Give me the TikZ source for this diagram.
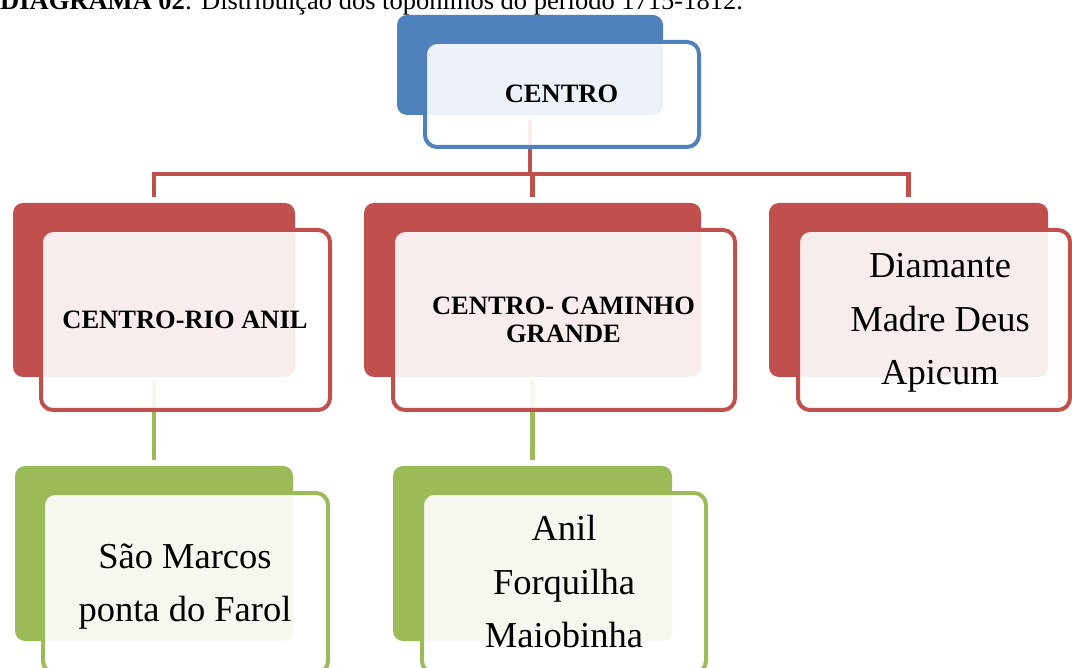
\documentclass[tikz,border=0pt]{standalone}
\usepackage{fontspec}
\setmainfont{Liberation Serif}
\definecolor{cblue}{HTML}{4F81BD}
\definecolor{cred}{HTML}{C0504D}
\definecolor{cgreen}{HTML}{9BBB59}
\begin{document}
\begin{tikzpicture}[x=1pt,y=-1pt,
  backbox/.style={rectangle, rounded corners=10pt, inner sep=0pt, outer sep=0pt, draw=none},
  frontbox/.style={rectangle, rounded corners=12pt, inner sep=0pt, outer sep=0pt, line width=4pt, fill=white, fill opacity=0.9},
  conn/.style={line width=4.5pt},
  boldlbl/.style={inner sep=0pt, align=center, font=\fontsize{26.5}{28}\selectfont\bfseries},
  biglbl/.style={inner sep=0pt, align=center, font=\fontsize{36.5}{53.5}\selectfont}
]
\useasboundingbox (0,0) rectangle (1072,668);

% back rectangles
\node[backbox, fill=cblue, minimum width=266pt, minimum height=100pt] (b0) at (530,65) {};
\node[backbox, fill=cred, minimum width=282pt, minimum height=174pt] (b1) at (154,290) {};
\node[backbox, fill=cred, minimum width=337pt, minimum height=174pt] (b2) at (532.5,290) {};
\node[backbox, fill=cred, minimum width=279pt, minimum height=174pt] (b3) at (908.5,290) {};
\node[backbox, fill=cgreen, minimum width=278pt, minimum height=175pt] (g1) at (154,553.5) {};
\node[backbox, fill=cgreen, minimum width=279pt, minimum height=175pt] (g2) at (532.5,553.5) {};

% connectors
\coordinate (bus) at (0,174);
\draw[conn, cred] ([yshift=-5pt]b0.south) -- (b0.south |- bus);
\draw[conn, cred] ([yshift=6pt]b1.north) -- (b1.north |- bus) -- (b3.north |- bus) -- ([yshift=6pt]b3.north);
\draw[conn, cred] (b2.north |- bus) -- ([yshift=6pt]b2.north);
\draw[conn, cgreen] ([yshift=-3pt]b1.south) -- ([yshift=6pt]g1.north);
\draw[conn, cgreen] ([yshift=-3pt]b2.south) -- ([yshift=6pt]g2.north);

% front boxes
\node[frontbox, draw=cblue, minimum width=274pt, minimum height=105pt] (f0) at (562,94.5) {};
\node[frontbox, draw=cred, minimum width=289pt, minimum height=180pt] (f1) at (185.5,320) {};
\node[frontbox, draw=cred, minimum width=342pt, minimum height=180pt] (f2) at (564,320) {};
\node[frontbox, draw=cred, minimum width=272pt, minimum height=180pt] (f3) at (934,320) {};
\node[frontbox, draw=cgreen, minimum width=285pt, minimum height=180pt] (f4) at (185.5,583) {};
\node[frontbox, draw=cgreen, minimum width=284pt, minimum height=180pt] (f5) at (564,583) {};

% texts
\node[boldlbl] (t0) at (561.5,94) {CENTRO};
\node[boldlbl] (t1) at (185,320) {CENTRO-RIO ANIL};
\node[boldlbl] (t2) at (563.5,320) {CENTRO- CAMINHO\\GRANDE};
\node[biglbl] (t3) at (940,323) {Diamante\\Madre Deus\\Apicum};
\node[biglbl] (t4) at (185,586.5) {São Marcos\\ponta do Farol};
\node[biglbl] (t5) at (564,582) {Anil\\Forquilha\\Maiobinha};

% caption
\node[anchor=base west, inner sep=0pt, font=\fontsize{26.5}{28}\selectfont] (cap) at (0,10) {\textbf{DIAGRAMA 02}: Distribuição dos topônimos do período 1715-1812.};
\end{tikzpicture}
\end{document}
